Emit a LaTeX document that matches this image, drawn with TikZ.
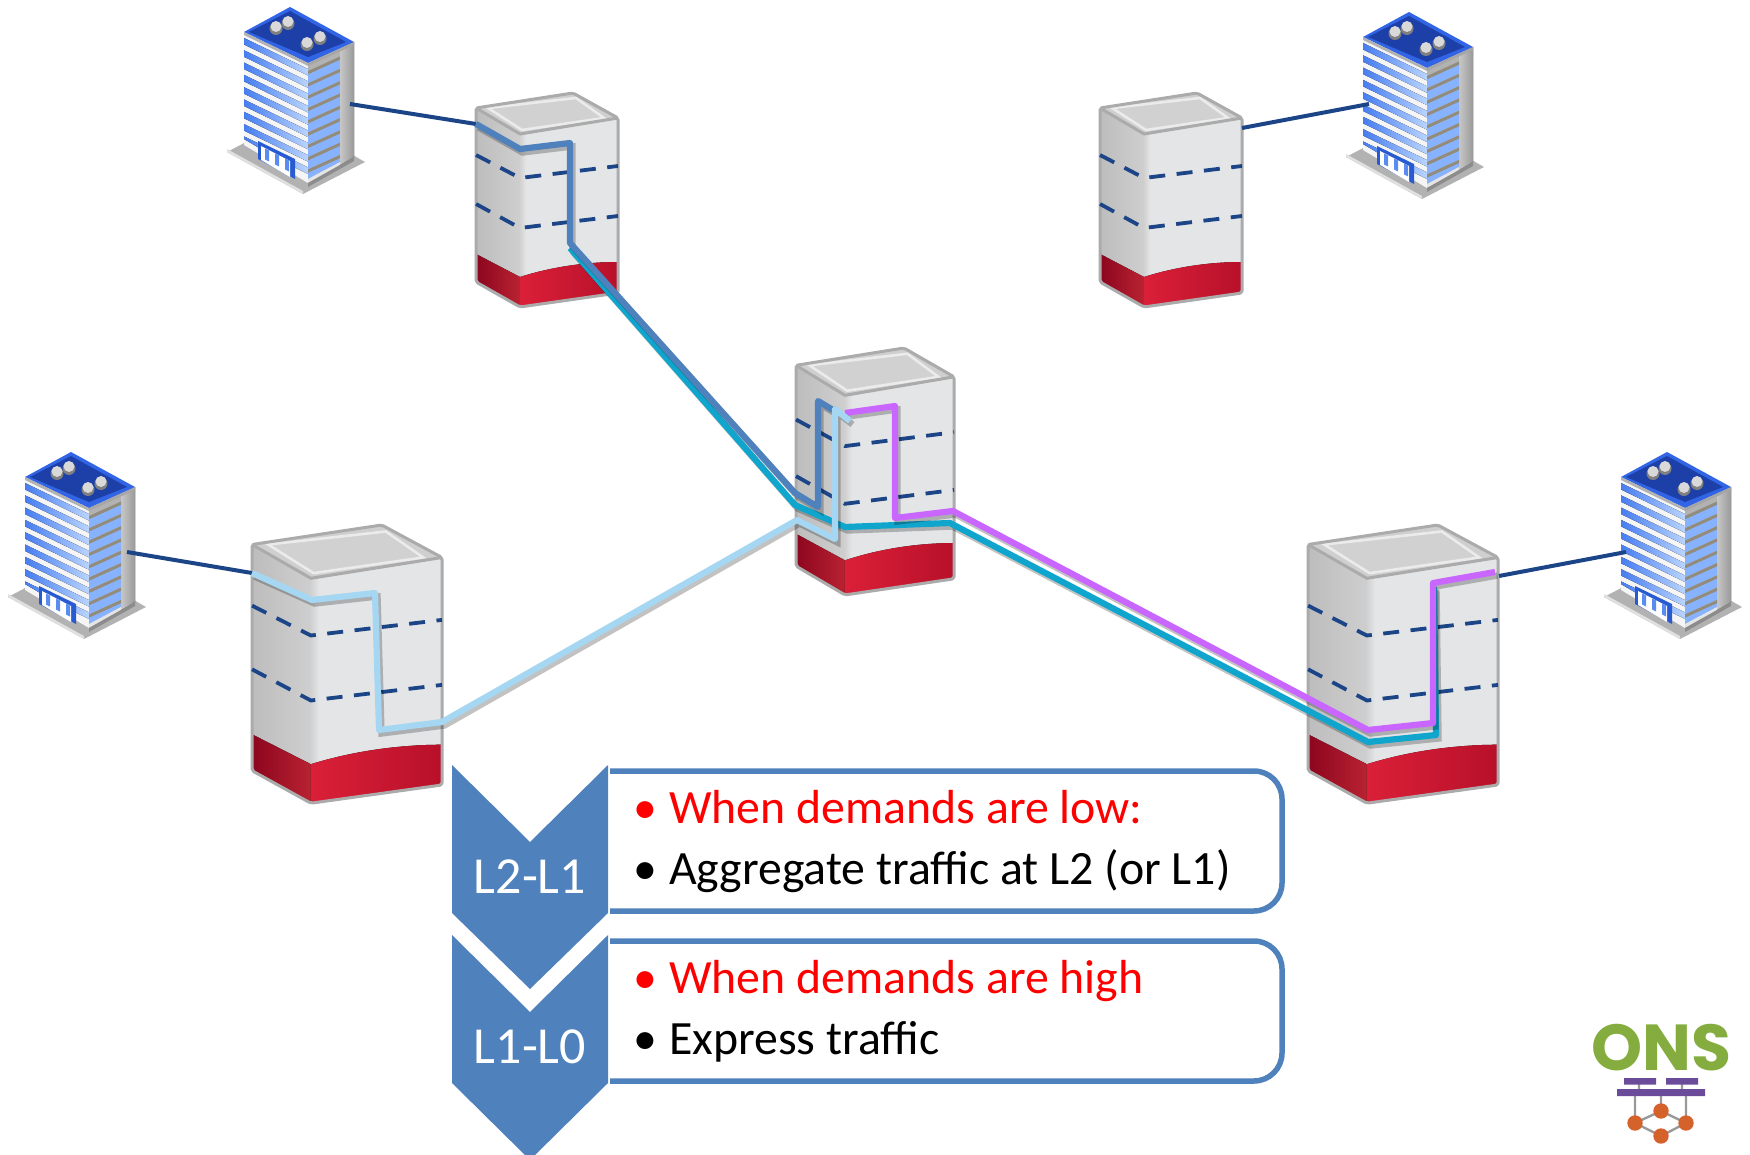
\documentclass[tikz,border=0pt]{standalone}
\usepackage{fontspec}
\setmainfont{Carlito}
\newfontfamily\logofont{Poppins}
\usetikzlibrary{calc}
\definecolor{linkblue}{HTML}{1C4587}
\definecolor{steel}{HTML}{4F81BD}
\definecolor{rteal}{HTML}{0FA5CC}
\definecolor{sky}{HTML}{A6D7F2}
\definecolor{rviolet}{HTML}{C966FF}
\definecolor{srvedge}{HTML}{ABABAB}
\definecolor{srvfront}{HTML}{E4E5E7}
\definecolor{logogreen}{HTML}{84AC3E}
\definecolor{logopurple}{HTML}{6B4C9A}
\definecolor{logoorange}{HTML}{D4622A}
\definecolor{reddarkA}{RGB}{140,5,30}
\definecolor{reddarkB}{RGB}{185,35,50}
\definecolor{redliteA}{RGB}{218,32,56}
\definecolor{redliteB}{RGB}{184,16,42}
\definecolor{winA}{RGB}{70,125,240}
\definecolor{winB}{RGB}{185,212,255}
\definecolor{winC}{RGB}{135,178,255}
\definecolor{winshade}{RGB}{145,140,125}
\definecolor{roofA}{RGB}{50,100,230}
\definecolor{roofB}{RGB}{28,64,168}
\definecolor{doorblue}{RGB}{40,90,210}
\definecolor{doorwin}{RGB}{90,140,240}
\definecolor{alertred}{RGB}{255,0,0}
\tikzset{
  access/.style={draw=linkblue,line width=4pt},
  levelline/.style={draw=linkblue,line width=3.8pt,dash pattern=on 16pt off 11.5pt},
  route/.style={line width=6.2pt,line join=round,
    preaction={draw=black,opacity=.24,line width=6.4pt,transform canvas={shift={(2.5pt,-3.5pt)}}}},
  panel/.style={draw=steel,line width=5.5pt,fill=white},
  chev/.style={fill=steel,draw=none},
  body/.style={anchor=base west,font=\fontsize{47.8}{48}\selectfont,inner sep=0pt},
  level/.style={anchor=base,font=\fontsize{52}{52}\selectfont,inner sep=0pt,text=white},
}
% server: #1 x, #2 y, #3 xscale, #4 yscale
\newcommand{\serverbox}[4]{%
\begin{scope}[shift={(#1,#2)},xscale=#3,yscale=#4]
  \fill[left color=black!26,right color=black!19] (0,15) -- (44,41) -- (44,214) -- (0,189) -- cycle;
  \fill[srvfront] (44,41) -- (142,25) -- (142,200) -- (44,214) -- cycle;
  \fill[left color=black!18,right color=srvfront] (44,41) rectangle (50,214);
  \fill[left color=reddarkA,right color=reddarkB] (0,161) -- (44,184) -- (44,214) -- (0,189) -- cycle;
  \fill[left color=redliteA,right color=redliteB] (44,184) .. controls (75,174) and (110,169) .. (142,169) -- (142,200) -- (44,214) -- cycle;
  \fill[black!19] (0,15) -- (97,0) -- (142,25) -- (44,41) -- cycle;
  \draw[white!92!black,line width=2.6pt,fill=black!18] (12,15) -- (100,5) -- (128,25) -- (46,37) -- cycle;
  \draw[srvedge,line width=3pt,line join=round,rounded corners=2pt] (0,15) -- (97,0) -- (142,25) -- (142,200) -- (44,214) -- (0,189) -- cycle;
  \draw[srvedge,line width=3pt,line join=round] (0,15) -- (44,41) -- (142,25);
  \draw[levelline] (0,62) -- (44,85) -- (142,73);
  \draw[levelline] (0,111) -- (44,135) -- (142,123);
\end{scope}}
% building: #1 x, #2 y of the roof apex
\newcommand{\officeblock}[2]{%
\begin{scope}[shift={(#1,#2)}]
  \fill[black!30] (-63,145) -- (0,112) -- (75,155) -- (13,187) -- cycle;
  \fill[black!12] (-63,145) -- (13,187) -- (13,184) -- (-63,142) -- cycle;
  \fill[white!96!black] (-46,25) -- (18,56) -- (18,176) -- (-46,138) -- cycle;
  \begin{scope}
    \clip (-46,25) -- (18,56) -- (18,170) -- (-46,132) -- cycle;
    \foreach \k in {0,...,9}{
      \fill[left color=winA,right color=winB]
        (-46,31+12.3*\k) -- (18,62+12.3*\k) -- (18,68.5+12.3*\k) -- (-46,37.5+12.3*\k) -- cycle;
    }
  \end{scope}
  \fill[black!30] (18,56) -- (64,35) -- (64,150) -- (18,176) -- cycle;
  \fill[left color=black!22,right color=black!40] (50,40) -- (64,35) -- (64,150) -- (50,158) -- cycle;
  \begin{scope}
    \clip (18,56) -- (50,40) -- (50,155) -- (18,172) -- cycle;
    \foreach \k in {0,...,9}{
      \fill[winshade] (18,64+12.3*\k) -- (50,49.5+12.3*\k) -- (50,53+12.3*\k) -- (18,67.5+12.3*\k) -- cycle;
      \fill[winC] (18,67.5+12.3*\k) -- (50,53+12.3*\k) -- (50,61.5+12.3*\k) -- (18,76+12.3*\k) -- cycle;
    }
  \end{scope}
  \fill[white!90!black] (18,172) -- (50,155) -- (50,158) -- (18,176) -- cycle;
  \fill[black!45] (18,176) -- (50,158) -- (64,150) -- (64,154) -- (18,180) -- cycle;
  \fill[roofA] (-46,25) -- (0,0) -- (64,35) -- (18,56) -- cycle;
  \fill[roofB] (-41,25) -- (0,4) -- (56,35) -- (18,50) -- cycle;
  \fill[white!70!black] (-46,25) -- (18,56) -- (18,59) -- (-46,28) -- cycle;
  \fill[black!35] (18,56) -- (64,35) -- (64,38) -- (18,59) -- cycle;
  \foreach \ax/\ay in {-14/20,-2/15,17/36,30/30}{
    \fill[black!50] (\ax,\ay+1.5) circle (6.5);
    \fill[white!85!black] (\ax,\ay-0.5) circle (5.5);
  }
  % entrance
  \fill[doorblue] (-32,134) -- (5,152) -- (5,172) -- (-32,152) -- cycle;
  \fill[white] (-29,139) -- (0,154) -- (0,170) -- (-29,153) -- cycle;
  \foreach \d in {-25,-15,-5}{
    \fill[doorwin] (\d,154+0.5*\d) -- (\d+4,156+0.5*\d) -- (\d+4,167+0.5*\d) -- (\d,165+0.5*\d) -- cycle;
  }
\end{scope}}
\begin{document}
\begin{tikzpicture}[x=1pt,y=-1pt]
\useasboundingbox (0,0) rectangle (1750,1155);
\clip (0,0) rectangle (1750,1155);
% buildings
\officeblock{290}{7}
\officeblock{1409}{12}
\officeblock{71}{452}
\officeblock{1667}{452}
\coordinate (b1) at (350,104);
\coordinate (b2) at (1369,104);
\coordinate (b3) at (127,552);
\coordinate (b4) at (1626,552);
% servers
\serverbox{476}{93}{1}{1}
\serverbox{1100}{93}{1}{1}
\serverbox{796}{348}{1.113}{1.154}
\serverbox{252}{525}{1.338}{1.30}
\serverbox{1308}{525}{1.338}{1.30}
\coordinate (s1) at (476,124);
\coordinate (s2) at (1242,128);
\coordinate (s3) at (252,573);
\coordinate (s4) at (1499,576);
% access links
\draw[access] (b1) -- (s1);
\draw[access] (s2) -- (b2);
\draw[access] (b3) -- (s3);
\draw[access] (s4) -- (b4);
% routes
\coordinate (tealstart) at (570,248);
\coordinate (tealend) at (1434,587);
\coordinate (steelend) at (833,410);
\coordinate (violetstart) at (845,413);
\coordinate (violetend) at (1495,572);
\coordinate (skyend) at (850,421);
\draw[route,rteal] (tealstart) -- (795,505) -- (845,527) -- (950,523) -- (1368,742) -- (1436,735) -- (tealend);
\draw[route,steel] (s1) -- (520,149) -- (570,143) -- (570,243) -- (795,493) -- (818,507) -- (818,401) -- (steelend);
\draw[route,rviolet] (violetstart) -- (895,406) -- (895,518) -- (953,511) -- (1368,730) -- (1433,723) -- (1433,583) -- (violetend);
\draw[route,sky] (s3) -- (312,600) -- (375,593) -- (379,730) -- (442,722) -- (797,520) -- (835,539) -- (835,409) -- (skyend);
% panels
\draw[panel] (610,771) -- (1254,771) arc[start angle=-90,end angle=0,radius=28] -- (1282,883) arc[start angle=0,end angle=90,radius=28] -- (610,911);
\draw[panel] (610,941) -- (1254,941) arc[start angle=-90,end angle=0,radius=28] -- (1282,1053) arc[start angle=0,end angle=90,radius=28] -- (610,1081);
\fill[chev] (452,765) -- (530,842) -- (608,765) -- (608,913) -- (530,989) -- (452,913) -- cycle;
\fill[chev] (452,935) -- (530,1012) -- (608,935) -- (608,1083) -- (530,1160) -- (452,1083) -- cycle;
\node[level] (lab1) at (530,893) {L2-L1};
\node[level] (lab2) at (530,1063) {L1-L0};
\node[body,text=alertred] (t1) at (633,823.5) {\makebox[36pt][l]{•}When demands are low:};
\node[body] (t2) at (633,884.5) {\makebox[36pt][l]{•}Aggregate traffic at L2 (or L1)};
\node[body,text=alertred] (t3) at (633,993.5) {\makebox[36pt][l]{•}When demands are high};
\node[body] (t4) at (633,1054.5) {\makebox[36pt][l]{•}Express traffic};
% logo
\node[anchor=base,inner sep=0pt,text=logogreen,font=\logofont\bfseries\fontsize{65}{65}\selectfont] (ons) at (1661,1070) {ONS};
\coordinate (ba) at (1635,1089);
\coordinate (bb) at (1661,1089);
\coordinate (bc) at (1686,1089);
\coordinate (na) at (1635,1123);
\coordinate (nb) at (1661,1111);
\coordinate (nc) at (1686,1123);
\coordinate (nd) at (1661,1136);
\coordinate (ta) at (1639,1082);
\coordinate (tb) at (1682,1082);
\draw[black!40,line width=2.4pt] (ta) -- (ta |- ba) (tb) -- (tb |- bc) (ba) -- (na) (bb) -- (nb) (bc) -- (nc) (na) -- (nb) -- (nc) -- (nd) -- (na);
\fill[logopurple] (1624,1078) rectangle (1656,1084.5) (1666,1078) rectangle (1698,1084.5) (1617,1089) rectangle (1705,1096);
\foreach \n in {na,nb,nc,nd} \fill[logoorange] (\n) circle (7.7);
\end{tikzpicture}
\end{document}
